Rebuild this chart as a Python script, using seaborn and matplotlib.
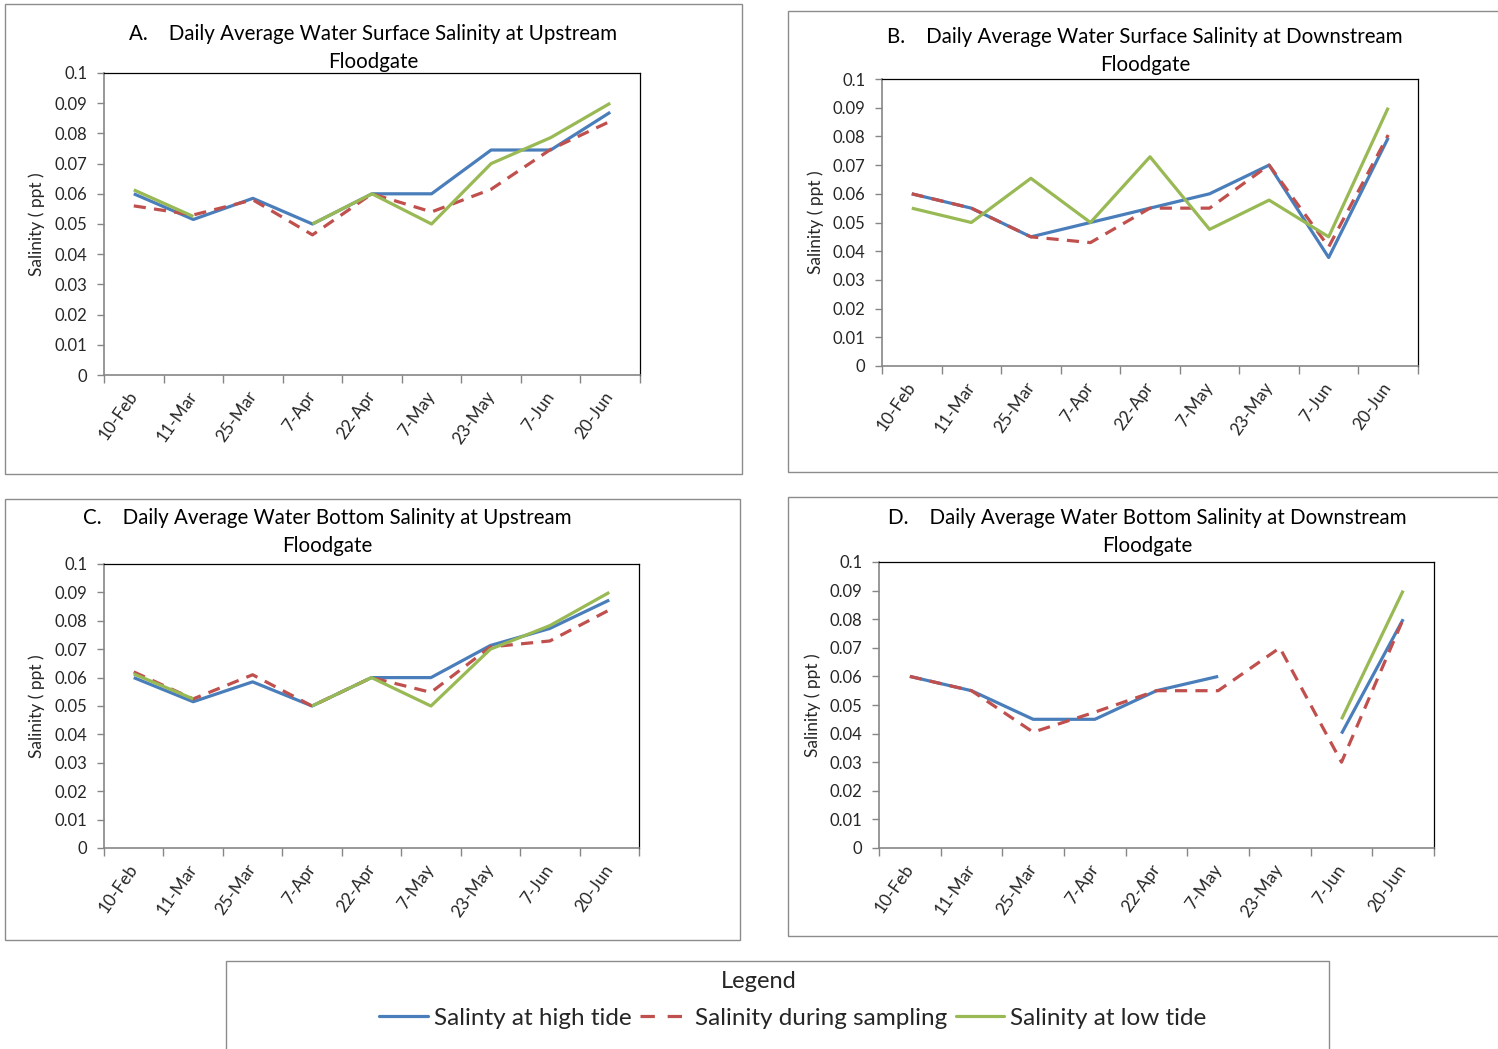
import numpy as np
import pandas as pd
import matplotlib
matplotlib.use("Agg")
import matplotlib.pyplot as plt
from matplotlib.patches import Rectangle
from matplotlib.lines import Line2D
import seaborn as sns

# ---- data -------------------------------------------------------------
dates = ["10-Feb", "11-Mar", "25-Mar", "7-Apr", "22-Apr", "7-May", "23-May", "7-Jun", "20-Jun"]
yticks = [0, 0.01, 0.02, 0.03, 0.04, 0.05, 0.06, 0.07, 0.08, 0.09, 0.1]
nan = np.nan

# A. surface, upstream
a_high = [0.060, 0.0515, 0.0585, 0.050, 0.060, 0.060, 0.0745, 0.0745, 0.087]
a_samp = [0.056, 0.053, 0.058, 0.0464, 0.060, 0.054, 0.0615, 0.0747, 0.084]
a_low = [0.0613, 0.0525, nan, 0.050, 0.060, 0.050, 0.070, 0.0786, 0.090]

# B. surface, downstream
b_high = [0.060, 0.055, 0.045, 0.050, 0.055, 0.060, 0.070, 0.0378, 0.0795]
b_samp = [0.060, 0.055, 0.045, 0.043, 0.055, 0.055, 0.070, 0.0415, 0.0805]
b_low = [0.055, 0.050, 0.0654, 0.050, 0.0729, 0.0476, 0.0578, 0.045, 0.090]

# C. bottom, upstream
c_high = [0.060, 0.0515, 0.0585, 0.050, 0.060, 0.060, 0.0713, 0.0773, 0.0873]
c_samp = [0.062, 0.0525, 0.061, 0.050, 0.060, 0.0548, 0.0708, 0.0729, 0.0838]
c_low = [0.0613, 0.0525, nan, 0.050, 0.060, 0.050, 0.070, 0.0783, 0.090]

# D. bottom, downstream
d_high = [0.060, 0.055, 0.045, 0.045, 0.055, 0.060, nan, 0.040, 0.080]
d_samp = [0.060, 0.055, 0.0405, 0.0475, 0.055, 0.055, 0.070, 0.030, 0.080]
d_low = [nan, nan, nan, nan, nan, nan, nan, 0.045, 0.090]

series_names = ["Salinty at high tide", "Salinity during sampling", "Salinity at low tide"]
colors = ["#4A7EBB", "#C0504D", "#98B954"]

panels = [
    ("A.    Daily Average Water Surface Salinity at Upstream\nFloodgate",
     [a_high, a_samp, a_low]),
    ("B.    Daily Average Water Surface Salinity at Downstream\nFloodgate",
     [b_high, b_samp, b_low]),
    ("C.    Daily Average Water Bottom Salinity at Upstream\nFloodgate",
     [c_high, c_samp, c_low]),
    ("D.    Daily Average Water Bottom Salinity at Downstream\nFloodgate",
     [d_high, d_samp, d_low]),
]

# ---- layout (pixel geometry of the 1498 x 1049 canvas) -----------------
W, H = 1498, 1049
sns.set_style("white")
plt.rcParams["font.family"] = ["Lato", "DejaVu Sans"]

fig = plt.figure(figsize=(W / 100, H / 100), dpi=100)
fig.patch.set_facecolor("white")


def fx(px):
    return px / W


def fy(py):
    return 1 - py / H


# outer panel frames: (left, top, right, bottom)
frames = [(5, 4, 742, 474), (788, 11, 1500, 472), (5, 499, 740, 940), (788, 497, 1500, 936)]
# plot areas: (left, top, right, bottom)
areas = [(104, 73, 640, 375), (882, 79, 1418, 366), (104, 564, 639, 848), (879, 562, 1434, 848)]
# title centres (x, y)
title_pos = [(373, 48), (1145, 51), (327, 532), (1147, 532)]
# right edge of the rotated y-axis label
ylab_x = [45, 824, 45, 821]

for (l, t, r, b) in frames:
    fig.add_artist(Rectangle((fx(l), fy(b)), fx(r - l), (b - t) / H, transform=fig.transFigure,
                             fill=False, edgecolor="#8C8C8C", linewidth=1.0))

for i, (title, series) in enumerate(panels):
    l, t, r, b = areas[i]
    ax = fig.add_axes([fx(l), fy(b), fx(r - l), (b - t) / H])

    for name, vals, col in zip(series_names, series, colors):
        v = np.array(vals, dtype=float)
        valid = ~np.isnan(v)
        # contiguous runs of readings become separate line segments
        seg = np.cumsum(np.r_[True, valid[1:] != valid[:-1]])
        df = pd.DataFrame({"x": np.arange(len(dates)), "y": v, "seg": seg})
        df = df[valid]
        if df.empty:
            continue
        style = dict(color=col, linewidth=2.3, solid_capstyle="butt")
        if name == "Salinity during sampling":
            style.update(dashes=(3.8, 2.6), dash_capstyle="butt")
        sns.lineplot(data=df, x="x", y="y", units="seg", estimator=None, sort=False,
                     ax=ax, legend=False, **style)

    ax.set_xlim(-0.5, len(dates) - 0.5)
    ax.set_ylim(0, 0.1)
    ax.set_yticks(yticks)
    ax.set_yticklabels([f"{v:g}" for v in yticks], fontsize=12)

    # category boundaries carry the tick marks, category centres carry the labels
    ax.set_xticks(np.arange(-0.5, len(dates), 1.0))
    ax.set_xticklabels([])
    ax.set_xticks(np.arange(len(dates)), minor=True)
    ax.set_xticklabels(dates, minor=True, rotation=55, ha="right", va="center",
                       rotation_mode="anchor", fontsize=12.5)
    ax.tick_params(axis="x", which="major", direction="out", length=6, width=1,
                   color="#868686", bottom=True)
    ax.tick_params(axis="x", which="minor", length=0, pad=13, bottom=True)
    ax.tick_params(axis="y", direction="out", length=5, width=1, color="#868686",
                   left=True, pad=7)

    ax.set_xlabel("")
    ax.set_ylabel("Salinity ( ppt )", fontsize=12.5)
    ax.yaxis.set_label_coords((ylab_x[i] - l) / (r - l), 0.5)

    for side in ["left", "bottom"]:
        ax.spines[side].set_color("#868686")
        ax.spines[side].set_linewidth(1.2)
    for side in ["top", "right"]:
        ax.spines[side].set_color("#000000")
        ax.spines[side].set_linewidth(0.9)

    tx, ty = title_pos[i]
    fig.text(fx(tx), fy(ty), title, ha="center", va="center", multialignment="center",
             fontsize=14.8, linespacing=1.46, color="#000000")

# ---- shared legend ------------------------------------------------------
fig.add_artist(Rectangle((fx(226), fy(1060)), fx(1329 - 226), (1060 - 961) / H,
                         transform=fig.transFigure, fill=False, edgecolor="#8C8C8C",
                         linewidth=1.0, clip_on=False))
fig.text(fx(759), fy(981), "Legend", ha="center", va="center", fontsize=17)
handles = [
    Line2D([], [], color=colors[0], linewidth=2.3),
    Line2D([], [], color=colors[1], linewidth=2.3, dashes=(4.5, 4.0)),
    Line2D([], [], color=colors[2], linewidth=2.3),
]
fig.legend(handles, series_names, loc="center", bbox_to_anchor=(fx(793), fy(1018)),
           ncol=3, frameon=False, fontsize=17.5, handlelength=2.0, handletextpad=0.25,
           columnspacing=0.35, borderpad=0)

fig.savefig("out.png", dpi=100, facecolor="white")
